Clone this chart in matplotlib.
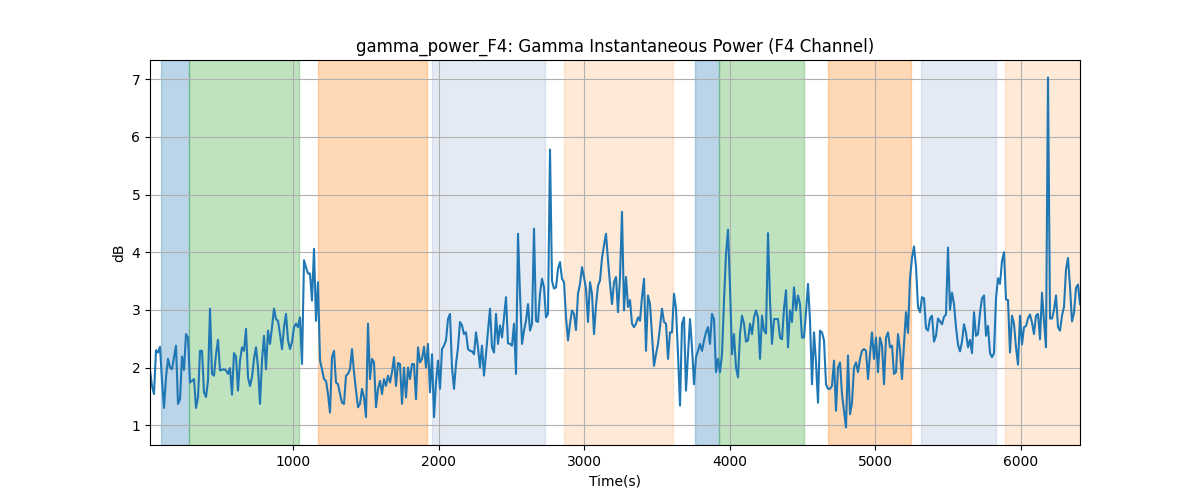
import numpy as np
import matplotlib
matplotlib.use("Agg")
import matplotlib.pyplot as plt

# gamma power, F4 channel (dB) at a fixed step
power_db = [
    # 18 - 1100 s
    1.95, 1.68, 1.54, 2.30, 2.26, 2.36, 1.77, 1.30, 1.83, 2.15,
    2.00, 1.97, 2.18, 2.38, 1.37, 1.45, 2.19, 1.96, 2.58, 2.52,
    1.74, 1.77, 1.80, 1.30, 1.48, 2.29, 2.29, 1.57, 1.49, 1.77,
    3.02, 1.89, 1.86, 2.23, 2.48, 1.95, 1.96, 1.97, 1.95, 1.89,
    1.99, 1.53, 2.25, 2.19, 1.60, 2.12, 2.35, 2.29, 2.67, 1.83,
    1.68, 1.83, 2.15, 2.35, 2.00, 1.37, 2.12, 2.55, 1.97, 2.64,
    2.41, 2.70, 3.02, 2.84, 2.81, 2.58, 2.32, 2.70, 2.93, 2.47,
    2.32, 2.44, 2.70, 2.76, 2.70, 2.87, 2.06, 3.86, 3.74, 3.63,
    # 1100 - 2130 s
    3.63, 3.16, 4.06, 2.81, 3.48, 2.12, 1.97, 1.80, 1.77, 1.54,
    1.22, 2.18, 2.29, 1.74, 1.71, 1.54, 1.39, 1.37, 1.86, 1.89,
    1.97, 2.32, 1.92, 1.60, 1.31, 1.37, 1.63, 1.48, 1.14, 2.76,
    1.80, 2.15, 2.09, 1.31, 1.63, 1.77, 1.54, 1.80, 1.68, 1.86,
    1.74, 1.92, 2.18, 1.68, 2.08, 2.06, 1.37, 2.00, 1.48, 2.00,
    1.80, 2.06, 2.06, 1.45, 2.35, 2.09, 2.15, 2.36, 2.00, 2.41,
    1.57, 2.23, 1.14, 1.74, 2.12, 1.63, 2.32, 2.38, 2.47, 2.84,
    2.93, 2.00, 1.63, 2.06, 2.35,
    # 2140 - 3160 s
    2.79, 2.73, 2.58, 2.61, 2.32, 2.29, 2.28, 2.23, 2.61, 2.35,
    2.00, 2.38, 1.86, 2.23, 2.64, 3.02, 2.35, 2.26, 2.93, 2.41,
    2.73, 2.52, 2.87, 3.22, 2.42, 2.41, 2.38, 2.76, 1.89, 4.32,
    3.28, 2.41, 2.64, 2.81, 3.10, 2.64, 2.76, 4.41, 2.81, 2.79,
    3.28, 3.54, 3.39, 2.87, 2.93, 5.78, 3.50, 3.37, 3.39, 3.71,
    3.83, 3.54, 3.48, 2.87, 2.47, 2.76, 2.99, 2.93, 2.65, 3.28,
    3.45, 3.74, 3.57, 3.37, 2.79, 3.48, 3.28, 2.58, 3.08, 3.42,
    3.51, 3.90, 4.12, 4.32, 3.86,
    # 3180 - 4200 s
    3.45, 3.10, 3.48, 3.57, 2.96, 3.57, 4.70, 2.99, 3.57, 3.05,
    3.17, 2.76, 2.70, 2.76, 2.87, 2.81, 3.22, 3.54, 2.29, 3.25,
    3.10, 2.55, 2.03, 2.23, 2.41, 2.70, 3.02, 2.79, 2.76, 2.15,
    2.61, 2.61, 3.28, 3.02, 2.23, 1.34, 2.76, 2.87, 1.60, 2.23,
    2.84, 2.35, 1.71, 2.18, 2.29, 2.41, 2.29, 2.47, 2.61, 2.70,
    2.41, 2.93, 2.84, 1.92, 2.15, 1.92, 2.23, 3.16, 3.97, 4.39,
    3.39, 2.23, 2.58, 2.00, 1.83, 2.58, 2.90, 2.76, 2.45, 2.47,
    2.76, 2.58, 2.87, 2.99, 2.87,
    # 4210 - 5230 s
    2.15, 2.90, 2.64, 2.59, 4.33, 3.16, 2.41, 2.84, 2.84, 2.84,
    2.52, 2.49, 3.02, 3.34, 2.35, 2.99, 2.79, 3.39, 2.99, 3.25,
    3.10, 2.52, 2.52, 2.96, 3.45, 2.81, 1.71, 2.61, 2.09, 1.39,
    2.64, 2.61, 2.47, 1.71, 1.63, 1.63, 1.68, 2.12, 1.25, 2.00,
    2.09, 1.54, 1.25, 0.96, 2.21, 1.19, 1.39, 2.00, 2.09, 1.92,
    2.15, 2.29, 2.32, 2.29, 1.80, 2.23, 2.61, 2.15, 2.52, 1.92,
    2.52, 2.38, 1.71, 2.52, 2.61, 2.35, 2.38, 1.89, 1.92, 2.58,
    2.30, 1.80, 2.41, 2.96, 2.60,
    # 5240 - 6405 s
    3.55, 3.90, 4.10, 3.75, 3.05, 2.96, 3.22, 3.20, 2.68, 2.64,
    2.85, 2.90, 2.45, 2.55, 2.85, 2.80, 2.75, 2.88, 2.92, 4.08,
    3.00, 3.30, 3.10, 2.70, 2.40, 2.28, 2.45, 2.75, 2.60, 2.35,
    2.48, 2.25, 2.96, 2.55, 2.58, 2.95, 3.20, 3.25, 2.55, 2.72,
    2.25, 2.18, 2.25, 3.20, 3.55, 3.45, 3.85, 4.00, 3.18, 3.17,
    2.26, 2.90, 2.76, 2.35, 2.05, 2.90, 2.40, 2.70, 2.72, 2.85,
    2.92, 2.78, 2.58, 2.90, 2.93, 2.49, 3.30, 2.80, 2.35, 7.03,
    2.85, 2.85, 3.00, 3.25, 2.70, 2.64, 2.90, 3.05, 3.70, 3.90,
    3.40, 2.80, 2.95, 3.38, 3.44, 3.10,
]
t_start = 18
t_end = 6405

# task epochs (start, end, colour, alpha)
epoch_starts = [93, 286, 1172, 1954, 2860, 3760, 3926, 4674, 5313, 5890]
epoch_ends = [286, 1041, 1920, 2730, 3609, 3926, 4510, 5244, 5828, 6405]
epoch_colors = ['tab:blue', 'tab:green', 'tab:orange', '#4c72b0', 'tab:orange',
                'tab:blue', 'tab:green', 'tab:orange', '#4c72b0', 'tab:orange']
epoch_alphas = [0.3, 0.3, 0.3, 0.15, 0.16, 0.3, 0.3, 0.3, 0.15, 0.16]

time_s = np.linspace(t_start, t_end, len(power_db))

fig, ax = plt.subplots(figsize=(12, 5), dpi=100)
for s, e, c, a in zip(epoch_starts, epoch_ends, epoch_colors, epoch_alphas):
    ax.axvspan(s, e, color=c, alpha=a)
ax.plot(time_s, power_db, color='tab:blue')
ax.set_xlim(time_s[0], time_s[-1])
ax.set_title('gamma_power_F4: Gamma Instantaneous Power (F4 Channel)')
ax.set_xlabel('Time(s)')
ax.set_ylabel('dB')
ax.grid(True)
fig.savefig('out.png')
